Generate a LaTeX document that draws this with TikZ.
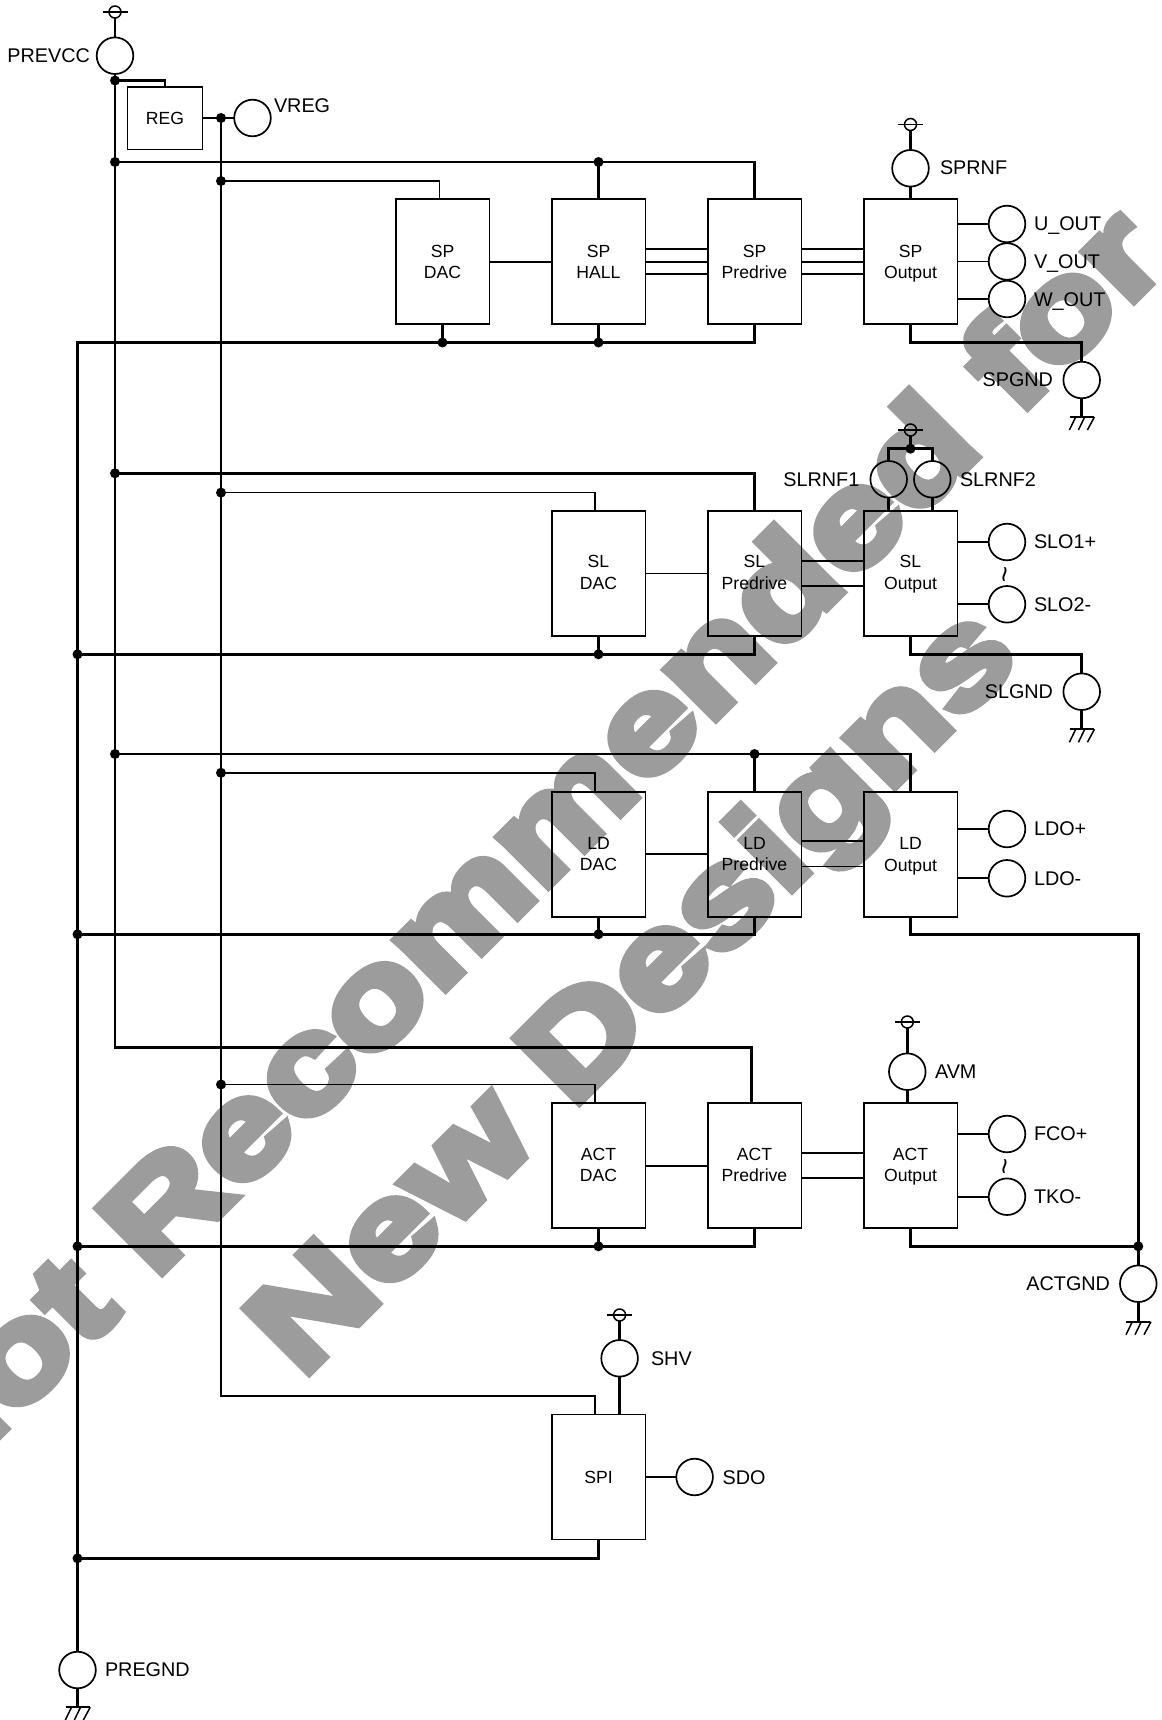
\documentclass[tikz,border=0pt]{standalone}
\usepackage{fontspec}
\setmainfont{Liberation Sans}
\newfontface\wmfont{Liberation Sans Bold}[FakeBold=7,FakeStretch=1.25]
\definecolor{wmgray}{HTML}{9C9C9C}
\newcommand\lift{\rule[-2pt]{0pt}{2pt}}
\tikzset{
  wire/.style={line width=1.7pt,line join=miter},
  bus/.style={line width=2.6pt,line join=miter},
  blockbox/.style={draw,line width=1.7pt,minimum width=93.7pt,minimum height=125pt,inner sep=0pt,outer sep=0pt,align=center,font=\fontsize{17.6}{21.5}\selectfont},
  regbox/.style={blockbox,minimum width=75pt,minimum height=62.7pt},
  pin/.style={draw,circle,line width=1.7pt,minimum size=36.6pt,inner sep=0pt,outer sep=0pt},
  dot/.style={fill=black,circle,minimum size=10pt,inner sep=0pt,outer sep=0pt},
  lab/.style={inner sep=0pt,outer sep=0pt,font=\fontsize{19.8}{24}\selectfont},
  labw/.style={lab,anchor=base west},
  labe/.style={lab,anchor=base east},
  wave/.style={inner sep=0pt,rotate=85,font=\fontsize{28}{28}\selectfont},
  wm/.style={wmgray,inner sep=0pt,outer sep=0pt,rotate=45,font=\wmfont\fontsize{131}{160}\selectfont},
  pwrsym/.style={draw,circle,line width=1.5pt,minimum size=12pt,inner sep=0pt,outer sep=0pt},
  gndsym/.pic={
    \draw[line width=1.7pt] (-12,0) -- (12,0);
    \draw[line width=1.5pt] (-6,0) -- (-12.3,13) (3,0) -- (-3.3,13) (12.7,0) -- (5.7,13);
  }
}
\begin{document}
\begin{tikzpicture}[x=1pt,y=-1pt]
\useasboundingbox (0,0) rectangle (1161,1720);
% watermark
\begin{scope}
\clip (0,0) rectangle (1161,1720);
\node[wm,anchor=base east] (wm1) at (1171,263) {Not Recommended for};
\node[wm,anchor=base west] (wm2) at (301.5,1379.7) {New Designs};
\end{scope}

% blocks
\node[regbox] (reg) at (165,118.3) {REG};
\node[blockbox] (spd) at (442.5,261.7) {SP\\DAC};
\node[blockbox] (sph) at (598.5,261.7) {SP\\HALL};
\node[blockbox] (spp) at (754.5,261.7) {SP\\Predrive};
\node[blockbox] (spo) at (910.5,261.7) {SP\\\smash{Output}};
\node[blockbox] (sld) at (598.5,573.4) {SL\\DAC\lift};
\node[blockbox] (slp) at (754.5,573.4) {SL\\Predrive\lift};
\node[blockbox] (slo) at (910.5,573.4) {SL\\\smash{Output}\lift};
\node[blockbox] (ldd) at (598.5,854.2) {LD\\DAC};
\node[blockbox] (ldp) at (754.5,854.2) {LD\\Predrive};
\node[blockbox] (ldo) at (910.5,854.2) {LD\\\smash{Output}};
\node[blockbox] (acd) at (598.5,1165.8) {ACT\\DAC\lift};
\node[blockbox] (acp) at (754.5,1165.8) {ACT\\Predrive\lift};
\node[blockbox] (aco) at (910.5,1165.8) {ACT\\\smash{Output}\lift};
\node[blockbox] (spi) at (598.5,1477) {SPI};

% pins
\node[pin] (prevcc) at (115,55.7) {};
\node[pin] (vreg) at (252.5,118) {};
\node[pin] (sprnf) at (910.5,168.3) {};
\node[pin] (uout) at (1007,224) {};
\node[pin] (vout) at (1007,261.5) {};
\node[pin] (wout) at (1007,299) {};
\node[pin] (spgnd) at (1081.7,380) {};
\node[pin] (slrnfa) at (888.7,479.3) {};
\node[pin] (slrnfb) at (932.3,479.3) {};
\node[pin] (sloa) at (1007,542) {};
\node[pin] (slob) at (1007,604.3) {};
\node[pin] (slgnd) at (1081.7,691.7) {};
\node[pin] (ldop) at (1007,829) {};
\node[pin] (ldom) at (1007,878.3) {};
\node[pin] (avm) at (907.3,1071.7) {};
\node[pin] (fco) at (1007,1134) {};
\node[pin] (tko) at (1007,1196.7) {};
\node[pin] (actgnd) at (1138.3,1283.7) {};
\node[pin] (shv) at (619.6,1358.3) {};
\node[pin] (sdo) at (694.6,1477) {};
\node[pin] (pregnd) at (77.5,1670) {};

% power symbols
\node[pwrsym] (pw1) at (115,12) {};
\node[pwrsym] (pw2) at (910.5,124.5) {};
\node[pwrsym] (pw3) at (910.5,430) {};
\node[pwrsym] (pw4) at (907.3,1022) {};
\node[pwrsym] (pw5) at (619.6,1315) {};
\foreach \p in {pw1,pw2,pw3,pw4,pw5}
  \draw[line width=1.5pt] ([xshift=-12.5pt]\p.center) -- ([xshift=12.5pt]\p.center);

% ground symbols
\coordinate (g1) at (1081.7,417);
\coordinate (g2) at (1081.7,729.3);
\coordinate (g3) at (1138.3,1321.7);
\coordinate (g4) at (77.5,1707.3);
\foreach \g in {g1,g2,g3,g4} \pic at (\g) {gndsym};

% junctions
\node[dot] (jvcc) at (115,80.5) {};
\node[dot] (jvreg) at (221,118) {};
\node[dot] (jspv) at (115,162) {};
\node[dot] (jspt) at (598.5,162) {};
\node[dot] (jspr) at (221,181) {};
\node[dot] (jspd) at (442.5,342.5) {};
\node[dot] (jsph) at (598.5,342.5) {};
\node[dot] (jslv) at (115,473.3) {};
\node[dot] (jslr) at (221,492.6) {};
\node[dot] (jslg) at (77.5,654.3) {};
\node[dot] (jsld) at (598.5,654.3) {};
\node[dot] (jldv) at (115,754) {};
\node[dot] (jldt) at (754.5,754) {};
\node[dot] (jldr) at (221,772.8) {};
\node[dot] (jldg) at (77.5,934.3) {};
\node[dot] (jldd) at (598.5,934.3) {};
\node[dot] (jacr) at (221,1084.5) {};
\node[dot] (jacg) at (77.5,1246.3) {};
\node[dot] (jacd) at (598.5,1246.3) {};
\node[dot] (jact) at (1138.3,1246.3) {};
\node[dot] (jspg) at (77.5,1558.3) {};
\node[dot] (jrnf) at (910.5,448.7) {};

% corners
\coordinate (cgnd) at (77.5,342.5);
\coordinate (cvcc) at (115,1047.3);
\coordinate (cvr) at (221,1395.7);
\coordinate (cspg) at (1081.7,342.5);
\coordinate (cslg) at (1081.7,654.3);
\coordinate (cldg) at (1138.3,934.3);
\coordinate (crnfa) at (888.7,448.7);
\coordinate (crnfb) at (932.3,448.7);

% supply rails
\draw[bus] (pw1) -- (prevcc);
\draw[bus] (prevcc) -- (cvcc) -| ([xshift=-3.2pt]acp.north);
\draw[bus] (jvcc.center) -| (reg.north);
\draw[bus] (jspv.center) -| (spp.north);
\draw[bus] (jspt.center) -- (sph.north);
\draw[bus] (jslv.center) -| (slp.north);
\draw[bus] (jldv.center) -| (ldo.north);
\draw[bus] (jldt.center) -- (ldp.north);

% VREG
\draw[wire] (reg.east |- jvreg) -- (vreg.west);
\draw[wire] (jvreg.center) -- (cvr) -| ([xshift=-3.5pt]spi.north);
\draw[wire] (jspr.center) -| ([xshift=-3pt]spd.north);
\draw[wire] (jslr.center) -| ([xshift=-3.5pt]sld.north);
\draw[wire] (jldr.center) -| ([xshift=-3.5pt]ldd.north);
\draw[wire] (jacr.center) -| ([xshift=-3.5pt]acd.north);

% ground rails
\draw[bus] (spp.south) |- (cgnd) -- (pregnd.north);
\draw[bus] (spd.south) -- (jspd.center);
\draw[bus] (sph.south) -- (jsph.center);
\draw[bus] (slp.south) |- (jslg.center);
\draw[bus] (sld.south) -- (jsld.center);
\draw[bus] (ldp.south) |- (jldg.center);
\draw[bus] (ldd.south) -- (jldd.center);
\draw[bus] (acp.south) |- (jacg.center);
\draw[bus] (acd.south) -- (jacd.center);
\draw[bus] (spi.south) |- (jspg.center);
\draw[bus] (spo.south) |- (cspg) -- (spgnd.north);
\draw[bus] (slo.south) |- (cslg) -- (slgnd.north);
\draw[bus] (ldo.south) |- (cldg) -- (actgnd.north);
\draw[bus] (aco.south) |- (jact.center);
\draw[bus] (spgnd.south) -- (g1);
\draw[bus] (slgnd.south) -- (g2);
\draw[bus] (actgnd.south) -- (g3);
\draw[bus] (pregnd.south) -- (g4);

% SP row
\draw[bus] (pw2) -- (sprnf);
\draw[bus] (sprnf) -- (spo.north);
\draw[wire] (spd.east) -- (sph.west);
\foreach \d in {12.4,0,-12.4} {
  \draw[wire] ([yshift=\d pt]sph.east) -- ([yshift=\d pt]spp.west);
  \draw[wire] ([yshift=\d pt]spp.east) -- ([yshift=\d pt]spo.west);
}
\draw[wire] (spo.east |- uout) -- (uout.west);
\draw[wire] (spo.east |- vout) -- (vout.west);
\draw[wire] (spo.east |- wout) -- (wout.west);

% SL row
\draw[bus] (pw3) -- (jrnf.center);
\draw[bus] (slrnfa.north) -- (crnfa) -- (crnfb) -- (slrnfb.north);
\draw[bus] (slrnfa.south) -- (slrnfa |- slo.north);
\draw[bus] (slrnfb.south) -- (slrnfb |- slo.north);
\draw[wire] (sld.east) -- (slp.west);
\draw[wire] ([yshift=12.4pt]slp.east) -- ([yshift=12.4pt]slo.west);
\draw[wire] ([yshift=-12.3pt]slp.east) -- ([yshift=-12.3pt]slo.west);
\draw[wire] (slo.east |- sloa) -- (sloa.west);
\draw[wire] (slo.east |- slob) -- (slob.west);

% LD row
\draw[wire] (ldd.east) -- (ldp.west);
\draw[wire] ([yshift=12.9pt]ldp.east) -- ([yshift=12.9pt]ldo.west);
\draw[wire] ([yshift=-12.3pt]ldp.east) -- ([yshift=-12.3pt]ldo.west);
\draw[wire] (ldo.east |- ldop) -- (ldop.west);
\draw[wire] (ldo.east |- ldom) -- (ldom.west);

% ACT row
\draw[bus] (pw4) -- (avm);
\draw[bus] (avm) -- (avm |- aco.north);
\draw[wire] (acd.east) -- (acp.west);
\draw[wire] ([yshift=12.6pt]acp.east) -- ([yshift=12.6pt]aco.west);
\draw[wire] ([yshift=-12.3pt]acp.east) -- ([yshift=-12.3pt]aco.west);
\draw[wire] (aco.east |- fco) -- (fco.west);
\draw[wire] (aco.east |- tko) -- (tko.west);

% SPI
\draw[bus] (pw5) -- (shv);
\draw[bus] (shv) -- (shv |- spi.north);
\draw[wire] (spi.east |- sdo) -- (sdo.west);

% labels
\node[labe] (tprevcc) at (90,62.7) {PREVCC};
\node[labw] (tvreg) at (274,112.3) {VREG};
\node[labw] (tsprnf) at (940,174.5) {SPRNF};
\node[labw] (tuout) at (1034,231) {U\_OUT};
\node[labw] (tvout) at (1034,268.5) {V\_OUT};
\node[labw] (twout) at (1034,306) {W\_OUT};
\node[labe] (tspgnd) at (1053,386.5) {SPGND};
\node[labe] (tslrnfa) at (859.3,486.5) {SLRNF1};
\node[labw] (tslrnfb) at (960,486.5) {SLRNF2};
\node[labw] (tsloa) at (1034,548.5) {SLO1+};
\node[labw] (tslob) at (1034,611) {SLO2-};
\node[labe] (tslgnd) at (1053,698.5) {SLGND};
\node[labw] (tldop) at (1034,835.5) {LDO+};
\node[labw] (tldom) at (1034,885) {LDO-};
\node[labw] (tavm) at (935,1078.5) {AVM};
\node[labw] (tfco) at (1034,1140.5) {FCO+};
\node[labw] (ttko) at (1034,1203.5) {TKO-};
\node[labe] (tactgnd) at (1110,1290.5) {ACTGND};
\node[labw] (tshv) at (651,1365) {SHV};
\node[labw] (tsdo) at (722.6,1484) {SDO};
\node[labw] (tpregnd) at (105,1676.5) {PREGND};
\node[wave] (wave1) at (1009,575) {\textasciitilde};
\node[wave] (wave2) at (1009,1166.7) {\textasciitilde};
\end{tikzpicture}
\end{document}
